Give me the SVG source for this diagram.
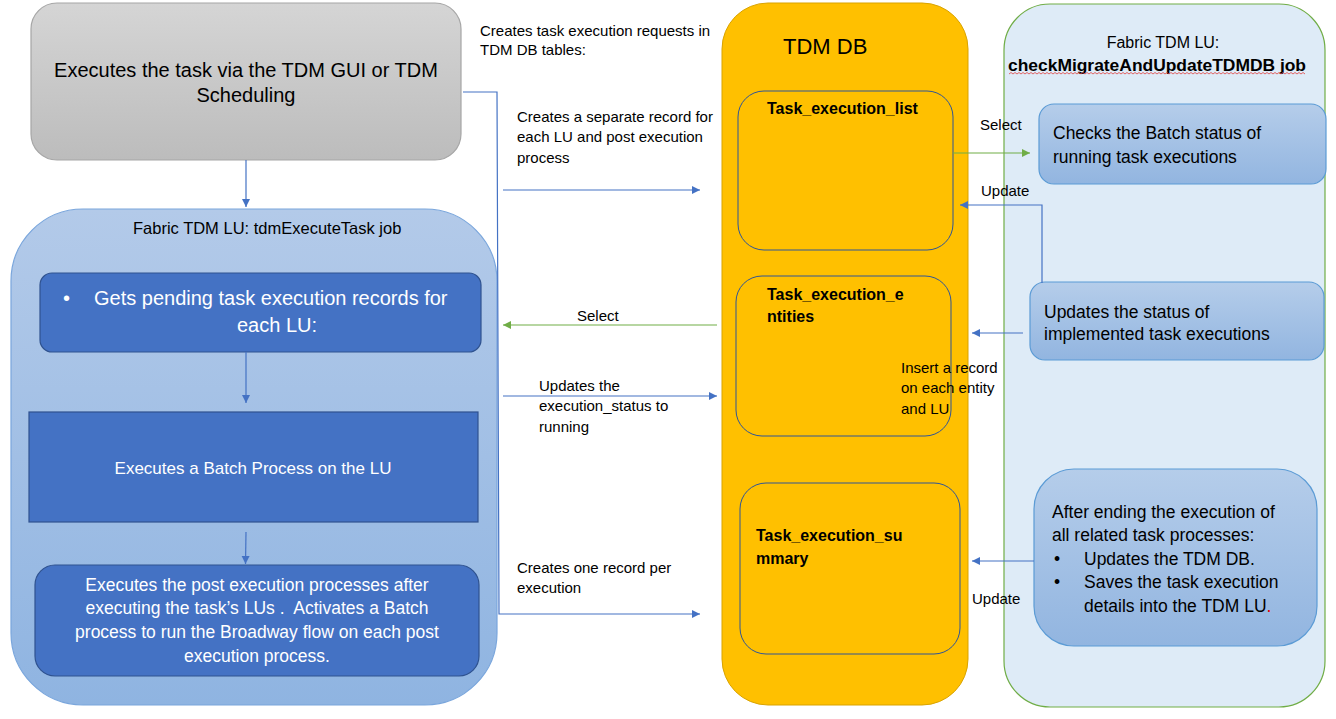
<svg xmlns="http://www.w3.org/2000/svg" width="1336" height="719" viewBox="0 0 1336 719">
<style>
text{font-family:"Liberation Sans",Arial,sans-serif;fill:#000}
.lbl{font-size:15px}
.w{fill:#fff}
.b{font-weight:bold}
.ln{fill:none;stroke:#4472c4;stroke-width:1.2}
.lg{fill:none;stroke:#70ad47;stroke-width:1.2}
.tbl{fill:none;stroke:#2f5597;stroke-width:1}
.dark{fill:#4472c4;stroke:#2f528f;stroke-width:1.2}
.lite{fill:url(#gLite);stroke:#5b9bd5;stroke-width:1.2}
</style>
<defs>
<linearGradient id="gGray" x1="0" y1="0" x2="0" y2="1"><stop offset="0" stop-color="#d5d5d5"/><stop offset="1" stop-color="#bcbcbc"/></linearGradient>
<linearGradient id="gBlue" x1="0" y1="0" x2="0" y2="1"><stop offset="0" stop-color="#b3cae9"/><stop offset="1" stop-color="#8fb4e1"/></linearGradient>
<linearGradient id="gLite" x1="0" y1="0" x2="0" y2="1"><stop offset="0" stop-color="#b5cdea"/><stop offset="1" stop-color="#92b5e0"/></linearGradient>
<marker id="ab" markerUnits="userSpaceOnUse" markerWidth="10" markerHeight="10" refX="8" refY="4" orient="auto"><path d="M0,0 L8,4 L0,8 z" fill="#4472c4"/></marker>
<marker id="ag" markerUnits="userSpaceOnUse" markerWidth="10" markerHeight="10" refX="8" refY="4" orient="auto"><path d="M0,0 L8,4 L0,8 z" fill="#70ad47"/></marker>
</defs>
<rect width="1336" height="719" fill="#fff"/>

<g id="gui">
<rect x="31" y="3" width="430" height="157" rx="26" fill="url(#gGray)" stroke="#a6a6a6" stroke-width="1.2"/>
<text x="246" y="77" font-size="20" text-anchor="middle" fill="#262626">Executes the task via the TDM GUI or TDM</text>
<text x="246" y="102" font-size="20" text-anchor="middle" fill="#262626">Scheduling</text>
</g>

<g id="tdmExecuteTask">
<rect x="11" y="209" width="486" height="496" rx="72" fill="url(#gBlue)" stroke="#7aa6dc" stroke-width="1.2"/>
<text x="133" y="234" font-size="16.5">Fabric TDM LU: tdmExecuteTask job</text>
</g>

<g id="getPending">
<rect x="40" y="273" width="441" height="79" rx="12" class="dark"/>
<text x="63" y="305" font-size="20" class="w">•</text>
<text x="94" y="305" font-size="20" class="w">Gets pending task execution records for</text>
<text x="277" y="332" font-size="20" class="w" text-anchor="middle">each LU:</text>
</g>

<g id="batchProcess">
<rect x="29" y="412" width="449" height="110" class="dark"/>
<text x="253" y="474" font-size="17" class="w" text-anchor="middle">Executes a Batch Process on the LU</text>
</g>

<g id="postExec">
<rect x="35" y="565" width="444" height="111" rx="20" class="dark"/>
<text x="257" y="591" font-size="17.5" class="w" text-anchor="middle">Executes the post execution processes after</text>
<text x="257" y="614" font-size="17.5" class="w" text-anchor="middle" xml:space="preserve" style="white-space:pre">executing the task’s LUs .  Activates a Batch</text>
<text x="257" y="638" font-size="17.5" class="w" text-anchor="middle">process to run the Broadway flow on each post</text>
<text x="257" y="662" font-size="17.5" class="w" text-anchor="middle">execution process.</text>
</g>

<g id="tdmdb">
<rect x="722" y="3" width="246" height="702" rx="46" fill="#ffc000" stroke="#d9a300" stroke-width="1"/>
<text x="783" y="54" font-size="22">TDM DB</text>
</g>

<g id="taskExecutionList">
<rect x="738" y="91" width="215" height="159" rx="26" class="tbl"/>
<text x="767" y="114" font-size="16" class="b">Task_execution_list</text>
</g>

<g id="taskExecutionEntities">
<rect x="736" y="276" width="215" height="160" rx="26" class="tbl"/>
<text x="767" y="300" font-size="16" class="b">Task_execution_e</text>
<text x="767" y="322" font-size="16" class="b">ntities</text>
</g>

<g id="taskExecutionSummary">
<rect x="740" y="483" width="220" height="171" rx="26" class="tbl"/>
<text x="756" y="541" font-size="16" class="b">Task_execution_su</text>
<text x="756" y="564" font-size="16" class="b">mmary</text>
</g>

<g id="checkMigrate">
<rect x="1004" y="4" width="321" height="703" rx="46" fill="#deebf7" stroke="#70ad47" stroke-width="1.2"/>
<text x="1163" y="48" font-size="16" text-anchor="middle">Fabric TDM LU:</text>
<text x="1008" y="71" font-size="16" class="b" textLength="298" lengthAdjust="spacingAndGlyphs">checkMigrateAndUpdateTDMDB job</text>
<path d="M1009,74 l2,-1.5 l2,1.5 l2,-1.5 l2,1.5 l2,-1.5 l2,1.5 l2,-1.5 l2,1.5 l2,-1.5 l2,1.5 l2,-1.5 l2,1.5 l2,-1.5 l2,1.5 l2,-1.5 l2,1.5 l2,-1.5 l2,1.5 l2,-1.5 l2,1.5 l2,-1.5 l2,1.5 l2,-1.5 l2,1.5 l2,-1.5 l2,1.5 l2,-1.5 l2,1.5 l2,-1.5 l2,1.5 l2,-1.5 l2,1.5 l2,-1.5 l2,1.5 l2,-1.5 l2,1.5 l2,-1.5 l2,1.5 l2,-1.5 l2,1.5 l2,-1.5 l2,1.5 l2,-1.5 l2,1.5 l2,-1.5 l2,1.5 l2,-1.5 l2,1.5 l2,-1.5 l2,1.5 l2,-1.5 l2,1.5 l2,-1.5 l2,1.5 l2,-1.5 l2,1.5 l2,-1.5 l2,1.5 l2,-1.5 l2,1.5 l2,-1.5 l2,1.5 l2,-1.5 l2,1.5 l2,-1.5 l2,1.5 l2,-1.5 l2,1.5 l2,-1.5 l2,1.5 l2,-1.5 l2,1.5 l2,-1.5 l2,1.5 l2,-1.5 l2,1.5 l2,-1.5 l2,1.5 l2,-1.5 l2,1.5 l2,-1.5 l2,1.5 l2,-1.5 l2,1.5 l2,-1.5 l2,1.5 l2,-1.5 l2,1.5 l2,-1.5 l2,1.5 l2,-1.5 l2,1.5 l2,-1.5 l2,1.5 l2,-1.5 l2,1.5 l2,-1.5 l2,1.5 l2,-1.5 l2,1.5 l2,-1.5 l2,1.5 l2,-1.5 l2,1.5 l2,-1.5 l2,1.5 l2,-1.5 l2,1.5 l2,-1.5 l2,1.5 l2,-1.5 l2,1.5 l2,-1.5 l2,1.5 l2,-1.5 l2,1.5 l2,-1.5 l2,1.5 l2,-1.5 l2,1.5 l2,-1.5 l2,1.5 l2,-1.5 l2,1.5 l2,-1.5 l2,1.5 l2,-1.5 l2,1.5 l2,-1.5 l2,1.5 l2,-1.5 l2,1.5 l2,-1.5 l2,1.5 l2,-1.5 l2,1.5 l2,-1.5 l2,1.5 l2,-1.5 l2,1.5 l2,-1.5 l2,1.5 l2,-1.5 l2,1.5 l2,-1.5 l2,1.5 l2,-1.5 l2,1.5" fill="none" stroke="#e04040" stroke-width="0.8"/>
</g>

<g id="checksBatch">
<rect x="1039" y="104" width="287" height="80" rx="15" class="lite"/>
<text x="1053" y="139" font-size="17.5">Checks the Batch status of</text>
<text x="1053" y="163" font-size="17.5">running task executions</text>
</g>

<g id="updatesStatus">
<rect x="1030" y="282" width="294" height="78" rx="15" class="lite"/>
<text x="1044" y="318" font-size="17.5">Updates the status of</text>
<text x="1044" y="340" font-size="17.5">implemented task executions</text>
</g>

<g id="afterEnding">
<rect x="1034" y="469" width="283" height="177" rx="40" class="lite"/>
<text x="1052" y="518" font-size="17.5">After ending the execution of</text>
<text x="1052" y="541" font-size="17.5">all related task processes:</text>
<text x="1054" y="565" font-size="17.5">•</text>
<text x="1084" y="565" font-size="17.5">Updates the TDM DB.</text>
<text x="1054" y="588" font-size="17.5">•</text>
<text x="1084" y="588" font-size="17.5">Saves the task execution</text>
<text x="1084" y="612" font-size="17.5">details into the TDM LU<tspan fill="#e00000">.</tspan></text>
</g>

<g id="connectors">
<path class="ln" d="M246,160 V207" marker-end="url(#ab)"/>
<path class="ln" d="M246,352 V403" marker-end="url(#ab)"/>
<path class="ln" d="M246,532 L245.5,564" marker-end="url(#ab)"/>
<path class="ln" d="M463,92 H497 L499,614 H700" marker-end="url(#ab)"/>
<path class="ln" d="M503,190 H700" marker-end="url(#ab)"/>
<path class="lg" d="M717,325 H503" marker-end="url(#ag)"/>
<path class="ln" d="M503,396 H717" marker-end="url(#ab)"/>
<path class="lg" d="M953,153 H1030" marker-end="url(#ag)"/>
<path class="ln" d="M1042,283 V205 H960" marker-end="url(#ab)"/>
<path class="ln" d="M1023,333 H972" marker-end="url(#ab)"/>
<path class="ln" d="M1034,561 H972" marker-end="url(#ab)"/>
<text x="480" y="36" class="lbl">Creates task execution requests in</text>
<text x="480" y="55" class="lbl">TDM DB tables:</text>
<text x="517" y="122" class="lbl">Creates a separate record for</text>
<text x="517" y="142" class="lbl">each LU and post execution</text>
<text x="517" y="163" class="lbl">process</text>
<text x="577" y="321" class="lbl">Select</text>
<text x="539" y="391" class="lbl">Updates the</text>
<text x="539" y="411" class="lbl">execution_status to</text>
<text x="539" y="432" class="lbl">running</text>
<text x="517" y="573" class="lbl">Creates one record per</text>
<text x="517" y="593" class="lbl">execution</text>
<text x="980" y="130" class="lbl">Select</text>
<text x="981" y="196" class="lbl">Update</text>
<text x="901" y="373" class="lbl">Insert a record</text>
<text x="901" y="393" class="lbl">on each entity</text>
<text x="901" y="414" class="lbl">and LU</text>
<text x="972" y="604" class="lbl">Update</text>
</g>
</svg>
